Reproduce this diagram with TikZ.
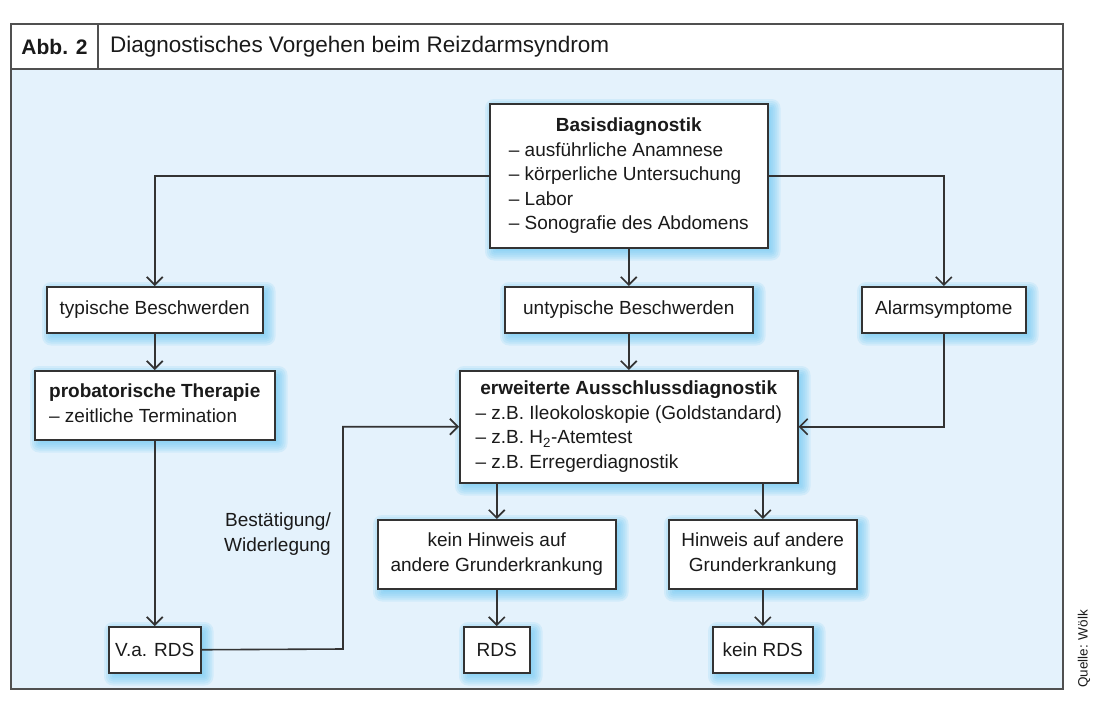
\documentclass[tikz,border=0pt]{standalone}
\usepackage{fontspec}
\setmainfont{Liberation Sans}
\usetikzlibrary{arrows.meta,calc}
\definecolor{bgblue}{HTML}{E4F2FC}
\definecolor{glowc}{HTML}{5EC3F2}
\definecolor{linec}{HTML}{333333}
\definecolor{framec}{HTML}{505050}
\definecolor{txtc}{HTML}{1A1A1A}
\pgfdeclarelayer{bglayer}
\pgfdeclarelayer{glowlayer}
\pgfsetlayers{bglayer,glowlayer,main}
\tikzset{
  box/.style={draw=linec,line width=1.5pt,fill=white,anchor=north west,inner sep=0pt,
    align=center,text=txtc,font=\fontsize{19}{24.5}\selectfont},
  sz/.style 2 args={minimum width=#1pt,minimum height=#2pt},
  arr/.style={draw=linec,line width=1.6pt,-{Straight Barb[length=8pt,width=16pt]}},
  lbl/.style={text=txtc,font=\fontsize{19}{24.5}\selectfont,inner sep=0pt},
  glowlay/.style={fill=glowc,fill opacity=0.14}
}
\newcommand{\glowof}[1]{%
  \foreach \e in {-6,-4,-2,0,2,4,6,8}{%
    \fill[glowlay,rounded corners={max(\e,0)+1}]
      ($(#1.north west)+(4-\e,4-\e)$) rectangle ($(#1.south east)+(4+\e,4+\e)$);
  }}
\begin{document}
\begin{tikzpicture}[x=1pt,y=-1pt]
\useasboundingbox (0,0) rectangle (1100,709);
% header and title
\node[lbl,font=\fontsize{21}{24}\selectfont\bfseries] (abb) at (54.5,47) {Abb. 2};
\node[lbl,font=\fontsize{22.5}{26}\selectfont,anchor=west] (title) at (110,47) {Diagnostisches Vorgehen beim Reizdarmsyndrom};
\node[rotate=90,font=\fontsize{13.5}{15}\selectfont,text=txtc,inner sep=0pt] (quelle) at (1084,649) {Quelle: Wölk};
% boxes
\node[box,sz={278}{144}] (basis) at (489,103) {\begin{tabular}{@{}l@{}}\multicolumn{1}{@{}c@{}}{\textbf{Basisdiagnostik}}\\ – ausführliche Anamnese\\ – körperliche Untersuchung\\ – Labor\\ – Sonografie des Abdomens\end{tabular}};
\node[box,sz={216}{46}] (typ) at (46,286) {typische Beschwerden};
\node[box,sz={248}{46}] (untyp) at (504,286) {untypische Beschwerden};
\node[box,sz={164}{46}] (alarm) at (861,286) {Alarmsymptome};
\node[box,sz={240}{69}] (prob) at (34,370) {\begin{tabular}{@{}l@{}}\textbf{probatorische Therapie}\\ – zeitliche Termination\end{tabular}};
\node[box,sz={338}{112}] (erw) at (459,370) {\begin{tabular}{@{}l@{}}\multicolumn{1}{@{}c@{}}{\textbf{erweiterte Ausschlussdiagnostik}}\\ – z.B. Ileokoloskopie (Goldstandard)\\ – z.B. H\textsubscript{2}-Atemtest\\ – z.B. Erregerdiagnostik\end{tabular}};
\node[box,sz={238}{69}] (kein) at (377,519) {kein Hinweis auf\\andere Grunderkrankung};
\node[box,sz={188}{69}] (hinw) at (668,519) {Hinweis auf andere\\Grunderkrankung};
\node[box,sz={92}{46}] (va) at (108,626) {V.a. RDS};
\node[box,sz={66}{46}] (rds) at (463,626) {RDS};
\node[box,sz={100}{46}] (krds) at (712,626) {kein RDS};
\node[lbl,anchor=east,align=right] (bw) at (331,534) {Bestätigung/\\Widerlegung};
\coordinate (bend) at (343,649);
% connectors
\draw[arr] (basis.west) -| (typ.north);
\draw[arr] (basis.east) -| (alarm.north);
\draw[arr] (basis.south) -- (basis.south |- untyp.north);
\draw[arr] (typ.south) -- (typ.south |- prob.north);
\draw[arr] (untyp.south) -- (untyp.south |- erw.north);
\draw[arr] (alarm.south) |- (erw.east);
\draw[arr] (prob.south) -- (prob.south |- va.north);
\draw[arr] (va.east) -- (bend) |- (erw.west);
\draw[arr] (kein.north |- erw.south) -- (kein.north);
\draw[arr] (hinw.north |- erw.south) -- (hinw.north);
\draw[arr] (kein.south) -- (kein.south |- rds.north);
\draw[arr] (hinw.south) -- (hinw.south |- krds.north);
% glows
\begin{pgfonlayer}{glowlayer}
\glowof{basis}\glowof{typ}\glowof{untyp}\glowof{alarm}\glowof{prob}\glowof{erw}
\glowof{kein}\glowof{hinw}\glowof{va}\glowof{rds}\glowof{krds}
\end{pgfonlayer}
% frame
\begin{pgfonlayer}{bglayer}
\fill[white] (0,0) rectangle (1100,709);
\fill[bgblue] (11,69) rectangle (1063,689);
\end{pgfonlayer}
\draw[framec,line width=1.8pt] (11,24) rectangle (1063,689);
\draw[framec,line width=1.8pt] (11,69) -- (1063,69);
\draw[framec,line width=1.8pt] (98,24) -- (98,69);
\end{tikzpicture}
\end{document}
